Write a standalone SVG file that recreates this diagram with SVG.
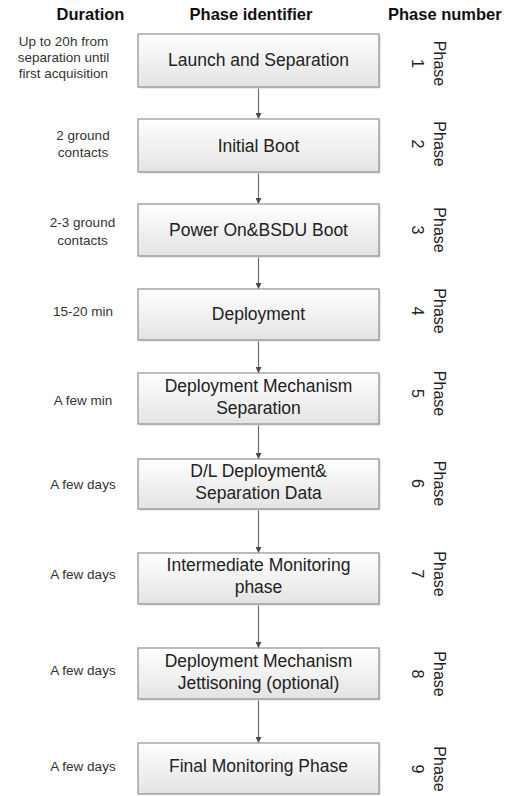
<svg xmlns="http://www.w3.org/2000/svg" width="513" height="796" viewBox="0 0 513 796">
<defs>
<linearGradient id="g" x1="0" y1="0" x2="0" y2="1">
<stop offset="0" stop-color="#ffffff"/>
<stop offset="1" stop-color="#e3e3e3"/>
</linearGradient>
<marker id="ah" viewBox="0 0 10 10" refX="10" refY="5" markerWidth="6" markerHeight="6" markerUnits="userSpaceOnUse" orient="auto">
<path d="M0,0 L10,5 L0,10 z" fill="#4a4a4a"/>
</marker>
</defs>
<style>
.hd{font-family:"Liberation Sans",Arial,sans-serif;font-weight:bold;font-size:16.5px;fill:#111}
.box{fill:url(#g);stroke:#8f8f8f;stroke-width:1.2}
.sh{fill:#dcdcdc}
.bt{font-family:"Liberation Sans",Arial,sans-serif;font-size:17.5px;fill:#222;text-anchor:middle}
.du{font-family:"Liberation Sans",Arial,sans-serif;font-size:13.5px;fill:#333;text-anchor:middle}
.ph{font-family:"Liberation Sans",Arial,sans-serif;font-size:16px;fill:#222;text-anchor:middle}
.cn{stroke:#6e6e6e;stroke-width:1.2;fill:none;marker-end:url(#ah)}
</style>
<rect width="513" height="796" fill="#ffffff"/>
<g id="headers">
<text class="hd" x="90.5" y="20" text-anchor="middle">Duration</text>
<text class="hd" x="251" y="20" text-anchor="middle">Phase identifier</text>
<text class="hd" x="388" y="20">Phase number</text>
</g>
<g id="connectors">
<line class="cn" x1="258.5" y1="87" x2="258.5" y2="119"/>
<line class="cn" x1="258.5" y1="172" x2="258.5" y2="204"/>
<line class="cn" x1="258.5" y1="256" x2="258.5" y2="289"/>
<line class="cn" x1="258.5" y1="340" x2="258.5" y2="373"/>
<line class="cn" x1="258.5" y1="424" x2="258.5" y2="459"/>
<line class="cn" x1="258.5" y1="509" x2="258.5" y2="553"/>
<line class="cn" x1="258.5" y1="604" x2="258.5" y2="648"/>
<line class="cn" x1="258.5" y1="699" x2="258.5" y2="743"/>
</g>
<g id="phase1">
<rect class="sh" x="139.5" y="35.5" width="241" height="53"/>
<rect class="box" x="138" y="34" width="241" height="53"/>
<text class="bt" x="258.5" y="66">Launch and Separation</text>
<text class="du" x="63.5" y="46">Up to 20h from</text>
<text class="du" x="63.5" y="62">separation until</text>
<text class="du" x="63.5" y="78">first acquisition</text>
<text class="ph" transform="translate(434,63.5) rotate(90)"><tspan x="0" y="0">Phase</tspan><tspan x="0" y="22">1</tspan></text>
</g>
<g id="phase2">
<rect class="sh" x="139.5" y="120.5" width="241" height="53"/>
<rect class="box" x="138" y="119" width="241" height="53"/>
<text class="bt" x="258.5" y="151.5">Initial Boot</text>
<text class="du" x="83" y="140">2 ground</text>
<text class="du" x="83" y="157">contacts</text>
<text class="ph" transform="translate(434,144) rotate(90)"><tspan x="0" y="0">Phase</tspan><tspan x="0" y="22">2</tspan></text>
</g>
<g id="phase3">
<rect class="sh" x="139.5" y="205.5" width="241" height="52"/>
<rect class="box" x="138" y="204" width="241" height="52"/>
<text class="bt" x="258.5" y="236">Power On&amp;BSDU Boot</text>
<text class="du" x="82.5" y="227">2-3 ground</text>
<text class="du" x="82.5" y="245">contacts</text>
<text class="ph" transform="translate(434,230) rotate(90)"><tspan x="0" y="0">Phase</tspan><tspan x="0" y="22">3</tspan></text>
</g>
<g id="phase4">
<rect class="sh" x="139.5" y="290.5" width="241" height="51"/>
<rect class="box" x="138" y="289" width="241" height="51"/>
<text class="bt" x="258.5" y="319.5">Deployment</text>
<text class="du" x="83" y="316">15-20 min</text>
<text class="ph" transform="translate(434,311) rotate(90)"><tspan x="0" y="0">Phase</tspan><tspan x="0" y="22">4</tspan></text>
</g>
<g id="phase5">
<rect class="sh" x="139.5" y="374.5" width="241" height="51"/>
<rect class="box" x="138" y="373" width="241" height="51"/>
<text class="bt" x="258.5" y="392">Deployment Mechanism</text>
<text class="bt" x="258.5" y="414">Separation</text>
<text class="du" x="83" y="405">A few min</text>
<text class="ph" transform="translate(434,393.5) rotate(90)"><tspan x="0" y="0">Phase</tspan><tspan x="0" y="22">5</tspan></text>
</g>
<g id="phase6">
<rect class="sh" x="139.5" y="460.5" width="241" height="50"/>
<rect class="box" x="138" y="459" width="241" height="50"/>
<text class="bt" x="258.5" y="476.5">D/L Deployment&amp;</text>
<text class="bt" x="258.5" y="498.5">Separation Data</text>
<text class="du" x="83" y="489">A few days</text>
<text class="ph" transform="translate(434,483.5) rotate(90)"><tspan x="0" y="0">Phase</tspan><tspan x="0" y="22">6</tspan></text>
</g>
<g id="phase7">
<rect class="sh" x="139.5" y="554.5" width="241" height="51"/>
<rect class="box" x="138" y="553" width="241" height="51"/>
<text class="bt" x="258.5" y="571">Intermediate Monitoring</text>
<text class="bt" x="258.5" y="593">phase</text>
<text class="du" x="83" y="579">A few days</text>
<text class="ph" transform="translate(434,574) rotate(90)"><tspan x="0" y="0">Phase</tspan><tspan x="0" y="22">7</tspan></text>
</g>
<g id="phase8">
<rect class="sh" x="139.5" y="649.5" width="241" height="51"/>
<rect class="box" x="138" y="648" width="241" height="51"/>
<text class="bt" x="258.5" y="667">Deployment Mechanism</text>
<text class="bt" x="258.5" y="689">Jettisoning (optional)</text>
<text class="du" x="83" y="675">A few days</text>
<text class="ph" transform="translate(434,674) rotate(90)"><tspan x="0" y="0">Phase</tspan><tspan x="0" y="22">8</tspan></text>
</g>
<g id="phase9">
<rect class="sh" x="139.5" y="744.5" width="241" height="50"/>
<rect class="box" x="138" y="743" width="241" height="51"/>
<text class="bt" x="258.5" y="772">Final Monitoring Phase</text>
<text class="du" x="83" y="771">A few days</text>
<text class="ph" transform="translate(434,769) rotate(90)"><tspan x="0" y="0">Phase</tspan><tspan x="0" y="22">9</tspan></text>
</g>
</svg>
